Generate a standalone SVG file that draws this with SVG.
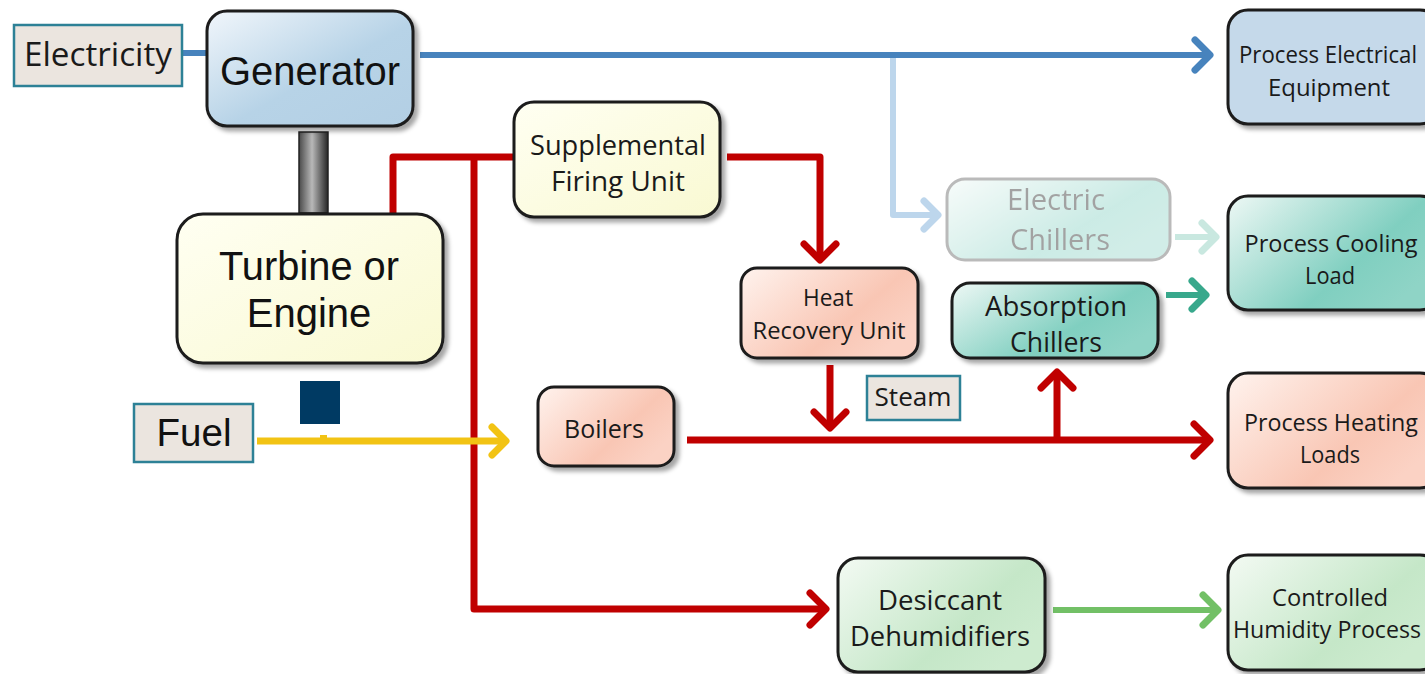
<svg xmlns="http://www.w3.org/2000/svg" width="1425" height="674" viewBox="0 0 1425 674">
<defs>
<style>
.box{stroke:#1b1b1b;stroke-width:3;filter:url(#sh)}
.lbl{fill:#ebe5df;stroke:#2d8196;stroke-width:2.5}
.t{font-family:"Open Sans","Liberation Sans",sans-serif;fill:#1a1a1a;text-anchor:middle}
.a{font-family:"Liberation Sans",Arial,sans-serif;fill:#111;text-anchor:middle}
.c{fill:none;stroke-linejoin:round}
.red{stroke:#c00000;stroke-width:7}
.blue{stroke:#4783bd;stroke-width:6}
.lblue{stroke:#bdd6ec;stroke-width:6}
.yel{stroke:#f2c314;stroke-width:7}
.teal{stroke:#38a88c;stroke-width:6}
.lteal{stroke:#c9e8e0;stroke-width:6}
.grn{stroke:#72c066;stroke-width:6}
</style>
<filter id="sh" x="-10%" y="-10%" width="125%" height="130%">
<feDropShadow dx="4" dy="4" stdDeviation="2" flood-color="#000" flood-opacity="0.35"/>
</filter>
<linearGradient id="gBlue" x1="0" y1="0" x2="1" y2="1"><stop offset="0" stop-color="#f1f6fb"/><stop offset="0.55" stop-color="#b7d3e7"/><stop offset="1" stop-color="#b3cfe4"/></linearGradient>
<linearGradient id="gYel" x1="0" y1="0" x2="1" y2="1"><stop offset="0" stop-color="#fffff2"/><stop offset="1" stop-color="#f9f9d2"/></linearGradient>
<linearGradient id="gSal" x1="0" y1="0" x2="1" y2="0.6"><stop offset="0" stop-color="#fff3ee"/><stop offset="0.7" stop-color="#f9c6b4"/><stop offset="1" stop-color="#fbd2c4"/></linearGradient>
<linearGradient id="gTeal" x1="0" y1="0" x2="1" y2="0.6"><stop offset="0" stop-color="#eef8f5"/><stop offset="0.7" stop-color="#80cfc0"/><stop offset="1" stop-color="#8fd4c6"/></linearGradient>
<linearGradient id="gGrn" x1="0" y1="0" x2="1" y2="0.6"><stop offset="0" stop-color="#f3faf3"/><stop offset="0.7" stop-color="#c5e7c8"/><stop offset="1" stop-color="#cdebcf"/></linearGradient>
<linearGradient id="gShaft" x1="0" y1="0" x2="1" y2="0"><stop offset="0" stop-color="#4a4a4a"/><stop offset="0.45" stop-color="#b8b8b8"/><stop offset="1" stop-color="#262626"/></linearGradient>
<marker id="mRed" markerUnits="userSpaceOnUse" orient="auto" markerWidth="60" markerHeight="60" refX="0" refY="0" overflow="visible"><path d="M-16,-16 L0,0 L-16,16" fill="none" stroke="#c00000" stroke-width="7" stroke-linecap="round" stroke-linejoin="round"/></marker>
<marker id="mBlue" markerUnits="userSpaceOnUse" orient="auto" markerWidth="60" markerHeight="60" overflow="visible"><path d="M-15,-15 L0,0 L-15,15" fill="none" stroke="#4783bd" stroke-width="7" stroke-linecap="round" stroke-linejoin="round"/></marker>
<marker id="mLBlue" markerUnits="userSpaceOnUse" orient="auto" markerWidth="60" markerHeight="60" overflow="visible"><path d="M-14,-14 L0,0 L-14,14" fill="none" stroke="#bdd6ec" stroke-width="7" stroke-linecap="round" stroke-linejoin="round"/></marker>
<marker id="mYel" markerUnits="userSpaceOnUse" orient="auto" markerWidth="60" markerHeight="60" overflow="visible"><path d="M-14,-14 L0,0 L-14,14" fill="none" stroke="#f2c314" stroke-width="7" stroke-linecap="round" stroke-linejoin="round"/></marker>
<marker id="mTeal" markerUnits="userSpaceOnUse" orient="auto" markerWidth="60" markerHeight="60" overflow="visible"><path d="M-14,-14 L0,0 L-14,14" fill="none" stroke="#38a88c" stroke-width="7" stroke-linecap="round" stroke-linejoin="round"/></marker>
<marker id="mLTeal" markerUnits="userSpaceOnUse" orient="auto" markerWidth="60" markerHeight="60" overflow="visible"><path d="M-14,-14 L0,0 L-14,14" fill="none" stroke="#c9e8e0" stroke-width="7" stroke-linecap="round" stroke-linejoin="round"/></marker>
<marker id="mGrn" markerUnits="userSpaceOnUse" orient="auto" markerWidth="60" markerHeight="60" overflow="visible"><path d="M-15,-15 L0,0 L-15,15" fill="none" stroke="#72c066" stroke-width="7" stroke-linecap="round" stroke-linejoin="round"/></marker>
</defs>
<rect width="1425" height="674" fill="#ffffff"/>

<g id="connectors">
<path class="c blue" d="M182,53 H209"/>
<path class="c lblue" d="M893,55 V215 H938" marker-end="url(#mLBlue)"/>
<path class="c blue" d="M420,55 H1210" marker-end="url(#mBlue)"/>
<path class="c red" d="M393,213 V157 H516"/>
<path class="c red" d="M474,157 V609 H826" marker-end="url(#mRed)"/>
<path class="c red" d="M727,157 H820 V260" marker-end="url(#mRed)"/>
<path class="c red" d="M830,365 V428" marker-end="url(#mRed)"/>
<path class="c red" d="M687,440 H1210" marker-end="url(#mRed)"/>
<path class="c red" d="M1057,437 V372" marker-end="url(#mRed)"/>
<path class="c yel" d="M257,441 H506" marker-end="url(#mYel)"/>
<path class="c teal" d="M1166,295 H1206" marker-end="url(#mTeal)"/>
<path class="c lteal" d="M1175,237 H1216" marker-end="url(#mLTeal)"/>
<path class="c grn" d="M1053,610 H1218" marker-end="url(#mGrn)"/>
</g>

<g id="shaft">
<rect x="299" y="132" width="29" height="81" fill="url(#gShaft)" stroke="#222" stroke-width="1.5"/>
</g>
<g id="fuel-marker">
<rect x="300" y="381" width="40" height="43" fill="#003a63"/>
<rect x="320" y="435" width="7" height="3" fill="#f2c314"/>
</g>

<g id="electricity">
<rect class="lbl" x="14" y="25" width="168" height="61"/>
<text class="t" x="98" y="66" font-size="33" textLength="148" lengthAdjust="spacingAndGlyphs">Electricity</text>
</g>

<g id="generator">
<rect class="box" x="207" y="11" width="206" height="115" rx="20" fill="url(#gBlue)"/>
<text class="a" x="310" y="85" font-size="40" textLength="180" lengthAdjust="spacingAndGlyphs">Generator</text>
</g>

<g id="turbine">
<rect class="box" x="177" y="214" width="266" height="149" rx="26" fill="url(#gYel)"/>
<text class="a" x="309" y="280" font-size="40" textLength="180" lengthAdjust="spacingAndGlyphs">Turbine or</text>
<text class="a" x="309" y="327" font-size="40">Engine</text>
</g>

<g id="fuel">
<rect class="lbl" x="134" y="404" width="119" height="58"/>
<text class="a" x="194" y="446" font-size="38" textLength="75" lengthAdjust="spacingAndGlyphs">Fuel</text>
</g>

<g id="supplemental">
<rect class="box" x="514" y="102" width="206" height="115" rx="20" fill="url(#gYel)"/>
<text class="t" x="618" y="155" font-size="27" textLength="176" lengthAdjust="spacingAndGlyphs">Supplemental</text>
<text class="t" x="618" y="191" font-size="27" textLength="134" lengthAdjust="spacingAndGlyphs">Firing Unit</text>
</g>

<g id="heat-recovery">
<rect class="box" x="741" y="268" width="177" height="90" rx="16" fill="url(#gSal)"/>
<text class="t" x="828" y="306" font-size="23" textLength="50" lengthAdjust="spacingAndGlyphs">Heat</text>
<text class="t" x="829" y="339" font-size="23" textLength="153" lengthAdjust="spacingAndGlyphs">Recovery Unit</text>
</g>

<g id="steam">
<rect class="lbl" x="867" y="376" width="93" height="44"/>
<text class="t" x="913" y="406" font-size="26" textLength="77" lengthAdjust="spacingAndGlyphs">Steam</text>
</g>

<g id="boilers">
<rect class="box" x="538" y="387" width="136" height="79" rx="16" fill="url(#gSal)"/>
<text class="t" x="604" y="438" font-size="25" textLength="80" lengthAdjust="spacingAndGlyphs">Boilers</text>
</g>

<g id="electric-chillers" opacity="0.4">
<rect x="947" y="179" width="223" height="81" rx="18" fill="url(#gTeal)" stroke="#555" stroke-width="3"/>
<text class="t" x="1056" y="210" font-size="29" fill="#444" textLength="98" lengthAdjust="spacingAndGlyphs">Electric</text>
<text class="t" x="1060" y="250" font-size="29" fill="#444" textLength="100" lengthAdjust="spacingAndGlyphs">Chillers</text>
</g>

<g id="absorption-chillers">
<rect class="box" x="952" y="283" width="206" height="75" rx="18" fill="url(#gTeal)"/>
<text class="t" x="1056" y="316" font-size="28" textLength="142" lengthAdjust="spacingAndGlyphs">Absorption</text>
<text class="t" x="1056" y="352" font-size="28" textLength="92" lengthAdjust="spacingAndGlyphs">Chillers</text>
</g>

<g id="process-electrical">
<rect class="box" x="1228" y="10" width="212" height="114" rx="20" fill="#c5d9ea"/>
<text class="t" x="1328" y="63" font-size="24" textLength="178" lengthAdjust="spacingAndGlyphs">Process Electrical</text>
<text class="t" x="1329" y="96" font-size="24" textLength="122" lengthAdjust="spacingAndGlyphs">Equipment</text>
</g>

<g id="process-cooling">
<rect class="box" x="1228" y="196" width="212" height="114" rx="20" fill="url(#gTeal)"/>
<text class="t" x="1331" y="252" font-size="24" textLength="173" lengthAdjust="spacingAndGlyphs">Process Cooling</text>
<text class="t" x="1330" y="284" font-size="24" textLength="50" lengthAdjust="spacingAndGlyphs">Load</text>
</g>

<g id="process-heating">
<rect class="box" x="1228" y="373" width="212" height="115" rx="20" fill="url(#gSal)"/>
<text class="t" x="1331" y="431" font-size="24" textLength="174" lengthAdjust="spacingAndGlyphs">Process Heating</text>
<text class="t" x="1330" y="463" font-size="24" textLength="60" lengthAdjust="spacingAndGlyphs">Loads</text>
</g>

<g id="desiccant">
<rect class="box" x="838" y="558" width="207" height="114" rx="20" fill="url(#gGrn)"/>
<text class="t" x="940" y="610" font-size="28" textLength="124" lengthAdjust="spacingAndGlyphs">Desiccant</text>
<text class="t" x="940" y="646" font-size="28" textLength="180" lengthAdjust="spacingAndGlyphs">Dehumidifiers</text>
</g>

<g id="controlled-humidity">
<rect class="box" x="1228" y="555" width="212" height="115" rx="20" fill="url(#gGrn)"/>
<text class="t" x="1330" y="606" font-size="24" textLength="116" lengthAdjust="spacingAndGlyphs">Controlled</text>
<text class="t" x="1327" y="638" font-size="24" textLength="188" lengthAdjust="spacingAndGlyphs">Humidity Process</text>
</g>
</svg>
